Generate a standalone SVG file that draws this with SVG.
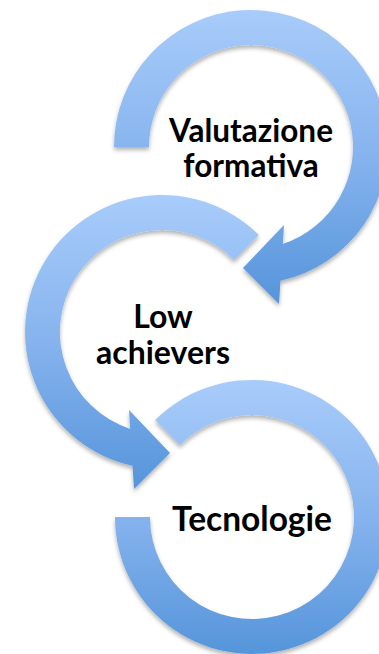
<svg xmlns="http://www.w3.org/2000/svg" width="379" height="654" viewBox="0 0 379 654">
  <defs>
    <linearGradient id="bandFill" x1="0" y1="0" x2="0" y2="1">
      <stop offset="0" stop-color="#a8ccfa"/>
      <stop offset="0.5" stop-color="#86b3ee"/>
      <stop offset="1" stop-color="#5595da"/>
    </linearGradient>
    <filter id="softShadow" x="-10%" y="-10%" width="120%" height="120%">
      <feDropShadow dx="0" dy="3" stdDeviation="2.2" flood-color="#000" flood-opacity="0.3"/>
    </filter>
  </defs>
  <style>
    .arrow { fill: url(#bandFill); filter: url(#softShadow); }
    .label { font-family: Lato, "Open Sans", "Liberation Sans", sans-serif; font-weight: bold; fill: #000; text-anchor: middle; }
    .small { font-size: 31.5px; }
    .mid { font-size: 32px; }
    .large { font-size: 33.5px; }
  </style>
  <rect width="379" height="654" fill="#fff"/>

  <!-- ring 1: clockwise from the left side, head pointing down-left -->
  <g id="node-valutazione">
    <path class="arrow" d="M114,147 A137,137 0 1 1 280.5,280.8 L279,304 L243,268 L284,225 L282.8,243.9 A102,102 0 1 0 149,147 Z"/>
    <text class="label small" x="251" y="142">Valutazione</text>
    <text class="label small" x="251" y="177">formativa</text>
  </g>

  <!-- ring 2: counter-clockwise from the upper right, head pointing down-right -->
  <g id="node-low-achievers">
    <path class="arrow" d="M258.9,235.1 A137,137 0 1 0 132.5,465.8 L134,489 L170,453 L129,410 L130.2,428.9 A102,102 0 1 1 234.1,259.9 Z"/>
    <text class="label mid" x="163" y="328">Low</text>
    <text class="label mid" x="163" y="364">achievers</text>
  </g>

  <!-- ring 3: open ring without a head -->
  <g id="node-tecnologie">
    <path class="arrow" d="M155.1,420.1 A137,137 0 1 1 115,517 L150,517 A102,102 0 1 0 179.9,444.9 Z"/>
    <text class="label large" x="252" y="531">Tecnologie</text>
  </g>

  <g id="connectors"></g>
</svg>
